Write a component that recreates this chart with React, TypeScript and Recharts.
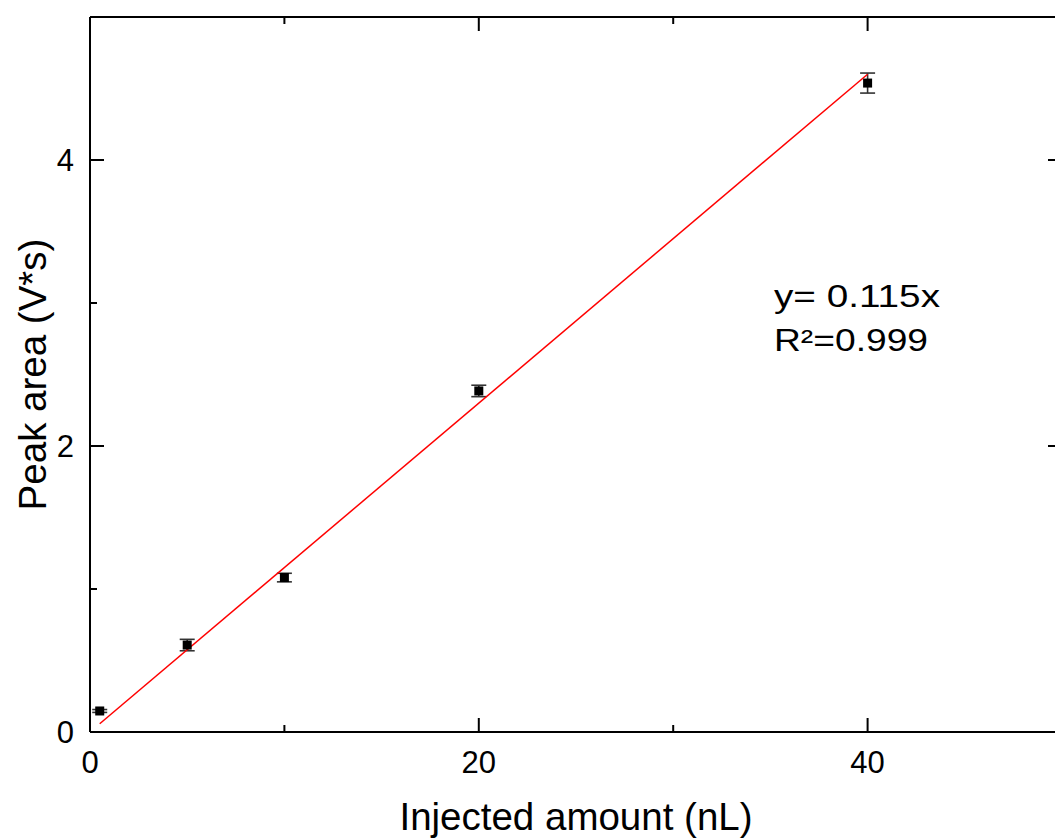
import { ScatterChart, Scatter, XAxis, YAxis, ErrorBar } from 'recharts'

const injected = [0.5, 5, 10, 20, 40]
const peakArea = [0.147, 0.608, 1.08, 2.385, 4.538]
const peakError = [0.01, 0.04, 0.03, 0.04, 0.07]

const fitX = [0.5, 40]
const fitY = [0.0575, 4.6]

const xTicks = [0, 10, 20, 30, 40]
const xLabelled = [0, 20, 40]
const yTicks = [0, 1, 2, 3, 4]
const yLabelled = [0, 2, 4]

const points = injected.map((x, i) => ({ x, y: peakArea[i], err: peakError[i] }))
const fit = fitX.map((x, i) => ({ x, y: fitY[i] }))

const FONT = '"Liberation Sans", Arial, sans-serif'

const tickLen = (major: boolean) => (major ? 14 : 7)

function BottomTick({ x, y, payload }: any) {
  const major = xLabelled.includes(payload.value)
  return (
    <g>
      <line x1={x} y1={y} x2={x} y2={y - tickLen(major)} stroke="#000" strokeWidth={2} />
      {major && (
        <text x={x} y={y + 41} textAnchor="middle" fontSize={31} fontFamily={FONT} fill="#000">
          {payload.value}
        </text>
      )}
    </g>
  )
}

function TopTick({ x, y, payload }: any) {
  const major = xLabelled.includes(payload.value)
  return <line x1={x} y1={y} x2={x} y2={y + tickLen(major)} stroke="#000" strokeWidth={2} />
}

function LeftTick({ x, y, payload }: any) {
  const major = yLabelled.includes(payload.value)
  return (
    <g>
      <line x1={x} y1={y} x2={x + tickLen(major)} y2={y} stroke="#000" strokeWidth={2} />
      {major && (
        <text x={x - 16} y={y} dy="0.36em" textAnchor="end" fontSize={31} fontFamily={FONT} fill="#000">
          {payload.value}
        </text>
      )}
    </g>
  )
}

function RightTick({ x, y, payload }: any) {
  const major = yLabelled.includes(payload.value)
  return <line x1={x} y1={y} x2={x - tickLen(major)} y2={y} stroke="#000" strokeWidth={2} />
}

function Square({ cx, cy }: any) {
  return <rect x={cx - 4.5} y={cy - 4.5} width={9} height={9} fill="#000" />
}

const axisLine = { stroke: '#000', strokeWidth: 2 }

export default function App() {
  return (
    <div
      style={{
        position: 'absolute',
        left: 0,
        top: 0,
        width: 1055,
        height: 839,
        overflow: 'hidden',
        background: '#fff',
      }}
    >
      <ScatterChart width={1070} height={839} margin={{ top: 16, right: 7, left: 0, bottom: 0 }}>
        <XAxis
          xAxisId="bottom"
          type="number"
          dataKey="x"
          domain={[0, 50]}
          ticks={xTicks}
          interval={0}
          tickSize={0}
          tickMargin={0}
          tickLine={false}
          tick={BottomTick}
          axisLine={axisLine}
          height={107}
          allowDataOverflow
          label={{
            content: ({ viewBox }: any) => (
              <text
                x={viewBox.x + viewBox.width / 2}
                y={viewBox.y + 98}
                textAnchor="middle"
                fontSize={38.5}
                fontFamily={FONT}
                fill="#000"
              >
                Injected amount (nL)
              </text>
            ),
          }}
        />
        <XAxis
          xAxisId="top"
          orientation="top"
          type="number"
          dataKey="x"
          domain={[0, 50]}
          ticks={xTicks}
          interval={0}
          tickSize={0}
          tickMargin={0}
          tickLine={false}
          tick={TopTick}
          axisLine={axisLine}
          height={1}
          allowDataOverflow
        />
        <YAxis
          yAxisId="left"
          type="number"
          dataKey="y"
          domain={[0, 5]}
          ticks={yTicks}
          interval={0}
          tickSize={0}
          tickMargin={0}
          tickLine={false}
          tick={LeftTick}
          axisLine={axisLine}
          width={90}
          allowDataOverflow
          label={{
            content: ({ viewBox }: any) => {
              const cx = 46
              const cy = viewBox.y + viewBox.height / 2
              return (
                <text
                  x={cx}
                  y={cy}
                  transform={`rotate(-90, ${cx}, ${cy})`}
                  textAnchor="middle"
                  fontSize={38.5}
                  fontFamily={FONT}
                  fill="#000"
                >
                  Peak area (V*s)
                </text>
              )
            },
          }}
        />
        <YAxis
          yAxisId="right"
          orientation="right"
          type="number"
          dataKey="y"
          domain={[0, 5]}
          ticks={yTicks}
          interval={0}
          tickSize={0}
          tickMargin={0}
          tickLine={false}
          tick={RightTick}
          axisLine={axisLine}
          width={1}
          allowDataOverflow
        />
        <Scatter
          xAxisId="bottom"
          yAxisId="left"
          data={fit}
          line={{ stroke: '#ff0000', strokeWidth: 1.5 }}
          shape={() => <g />}
          isAnimationActive={false}
        />
        <Scatter
          xAxisId="bottom"
          yAxisId="left"
          data={points}
          shape={Square}
          isAnimationActive={false}
        >
          <ErrorBar dataKey="err" direction="y" width={7.5} stroke="#333" strokeWidth={1.6} />
        </Scatter>
      </ScatterChart>
      <svg
        width={1055}
        height={839}
        style={{ position: 'absolute', left: 0, top: 0, pointerEvents: 'none' }}
      >
        <text x={774} y={307} fontSize={31} fontFamily={FONT} fill="#000" textLength={166} lengthAdjust="spacingAndGlyphs">
          y= 0.115x
        </text>
        <text x={774} y={351} fontSize={31} fontFamily={FONT} fill="#000" textLength={154} lengthAdjust="spacingAndGlyphs">
          R²=0.999
        </text>
      </svg>
    </div>
  )
}
